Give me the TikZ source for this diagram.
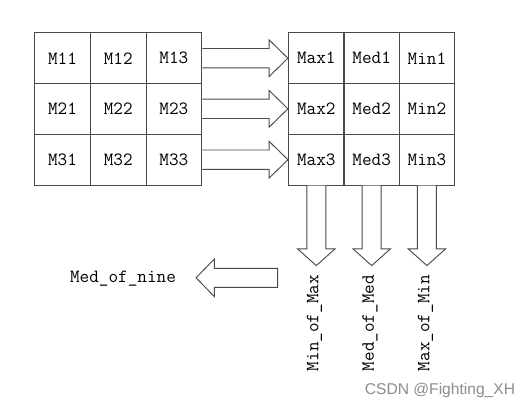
\documentclass[tikz,border=0pt]{standalone}
\usepackage{fontspec}
\newfontfamily\wmfont{Liberation Sans}
\usetikzlibrary{calc}
\definecolor{linec}{HTML}{4A4A4A}
\begin{document}
\begin{tikzpicture}[x=0.75pt,y=-0.75pt,
  cell/.style={draw=linec, line width=0.8pt, minimum width=41.8pt, minimum height=38pt, inner sep=0pt,
    font=\fontsize{14}{16}\selectfont\ttfamily},
  blk/.style={draw=linec, line width=0.7pt, fill=white, line join=miter},
  lab/.style={font=\fontsize{14}{16}\selectfont\ttfamily, inner sep=0pt}]
\useasboundingbox (0,0) rectangle (528,412);
% left grid
\foreach \r/\y in {1/58.2,2/108.8,3/159.7}{
  \foreach \c/\x in {1/62.5,2/118.2,3/173.9}{
    \node[cell] (m\r\c) at (\x,\y) {M\r\c};
  }
  \node[cell] (max\r) at (316.3,\y) {Max\r};
  \node[cell] (med\r) at (371.7,\y) {Med\r};
  \node[cell] (min\r) at (426.9,\y) {Min\r};
}
% right arrows
\foreach \r in {1,2,3}{
  \draw[blk] ($(m\r3.east)+(0,-9.7)$) -- ($(max\r.west)+(-18.7,-9.7)$) -- ($(max\r.west)+(-18.7,-18.3)$)
    -- (max\r.west) -- ($(max\r.west)+(-18.7,18.3)$) -- ($(max\r.west)+(-18.7,9.7)$) -- ($(m\r3.east)+(0,9.7)$);
}
% down arrows
\foreach \n in {max3,med3,min3}{
  \draw[blk] ($(\n.south)+(-9.5,0)$) -- ($(\n.south)+(-9.5,63.3)$) -- ($(\n.south)+(-18.7,63.3)$)
    -- ($(\n.south)+(0,80)$) -- ($(\n.south)+(18.7,63.3)$) -- ($(\n.south)+(9.5,63.3)$) -- ($(\n.south)+(9.5,0)$);
}
% labels
\node[lab, rotate=90] (l1) at (314.5,323) {Min\_of\_Max};
\node[lab, rotate=90] (l2) at (370,323) {Med\_of\_Med};
\node[lab, rotate=90] (l3) at (425.5,323) {Max\_of\_Min};
\node[lab] (mon) at (123,279) {Med\_of\_nine};
% left arrow
\coordinate (lt) at (277.7,277.8);
\draw[blk] ($(lt)+(0,-9.5)$) -- ($(lt)+(-63.4,-9.5)$) -- ($(lt)+(-63.4,-18.7)$) -- ($(lt)+(-81.7,0)$)
  -- ($(lt)+(-63.4,18.7)$) -- ($(lt)+(-63.4,9.5)$) -- ($(lt)+(0,9.5)$) -- cycle;
% watermark
\node[font=\wmfont\fontsize{11.7}{14}\selectfont, text=black!45, inner sep=0pt] (wm) at (440,390) {CSDN @Fighting\_XH};
\end{tikzpicture}
\end{document}
